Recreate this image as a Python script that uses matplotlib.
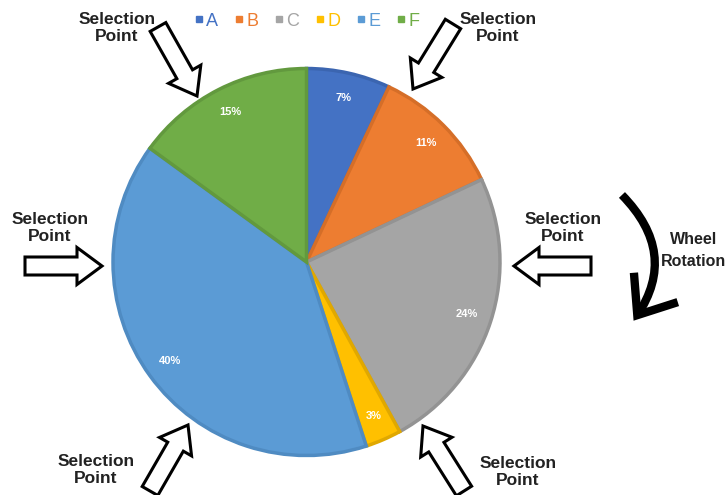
import numpy as np
import matplotlib.pyplot as plt
from matplotlib.patches import FancyArrow, FancyArrowPatch
from matplotlib.lines import Line2D

# slice data
labels = ['A', 'B', 'C', 'D', 'E', 'F']
shares = [7, 11, 24, 3, 40, 15]
colors = ['#4472C4', '#ED7D31', '#A5A5A5', '#FFC000', '#5B9BD5', '#70AD47']
edges = ['#3B65B0', '#D56E28', '#939393', '#E0A800', '#4F8BC2', '#62993E']

W, H = 727, 495
fig = plt.figure(figsize=(W / 100, H / 100), dpi=100)
ax = fig.add_axes([0, 0, 1, 1])

def Y(y):
    # pixel row -> data y (y axis points up)
    return H - y

wedges, texts, autotexts = ax.pie(
    shares, colors=colors, startangle=90, counterclock=False,
    center=(306.5, Y(262)), radius=193.5, autopct='%d%%', pctdistance=0.87,
    wedgeprops=dict(linewidth=2.5),
    textprops=dict(color='white', fontsize=8, fontweight='bold', family='Liberation Sans'))
for w, e in zip(wedges, edges):
    w.set_edgecolor(e)

ax.set_xlim(0, W)
ax.set_ylim(0, H)
ax.set_aspect('equal')
ax.axis('off')

# legend: small square markers with coloured letters
handles = [Line2D([], [], marker='s', ls='none', color=c, markersize=5) for c in colors]
ax.legend(handles, labels, ncol=6, loc='center', bbox_to_anchor=(307 / W, 1 - 21 / H),
          frameon=False, labelcolor=colors, handlelength=0.5,
          handletextpad=0.15, columnspacing=0.9, prop={'family': 'Liberation Sans', 'size': 13})

# hollow "selection point" arrows: (tail, tip) in pixel coordinates
arrows = [((158, 27), (197, 96)), ((453, 24), (413, 89)),
          ((25, 266), (102, 266)), ((591, 266), (514, 266)),
          ((150, 491), (188, 425)), ((464, 491), (423, 426))]
for (x0, y0), (x1, y1) in arrows:
    ax.add_patch(FancyArrow(x0, Y(y0), x1 - x0, y0 - y1, width=18, head_width=37,
                            head_length=25, length_includes_head=True,
                            fc='white', ec='black', lw=2.2, joinstyle='miter'))

sel_pos = [(117, 28), (498, 28), (50, 228), (563, 228), (96, 470), (518, 472)]
for x, y in sel_pos:
    ax.text(x, Y(y), 'Selection\nPoint', ha='center', va='center', fontsize=12.5,
            fontweight='bold', family='Liberation Sans', color='#222222', linespacing=1.1)

# wheel rotation arrow
ax.add_patch(FancyArrowPatch((620, Y(193)), (632, Y(323)), connectionstyle='arc3,rad=-0.42',
                             arrowstyle='->,head_length=1.2,head_width=0.95', mutation_scale=20,
                             lw=6, color='black', capstyle='butt', joinstyle='miter'))
ax.text(694, Y(240), 'Wheel', ha='center', va='center', fontsize=11.5, fontweight='bold',
        family='Liberation Sans', color='#222222')
ax.text(726, Y(261), 'Rotation', ha='right', va='center', fontsize=11.5, fontweight='bold',
        family='Liberation Sans', color='#222222')

plt.savefig('out.png', dpi=100)
